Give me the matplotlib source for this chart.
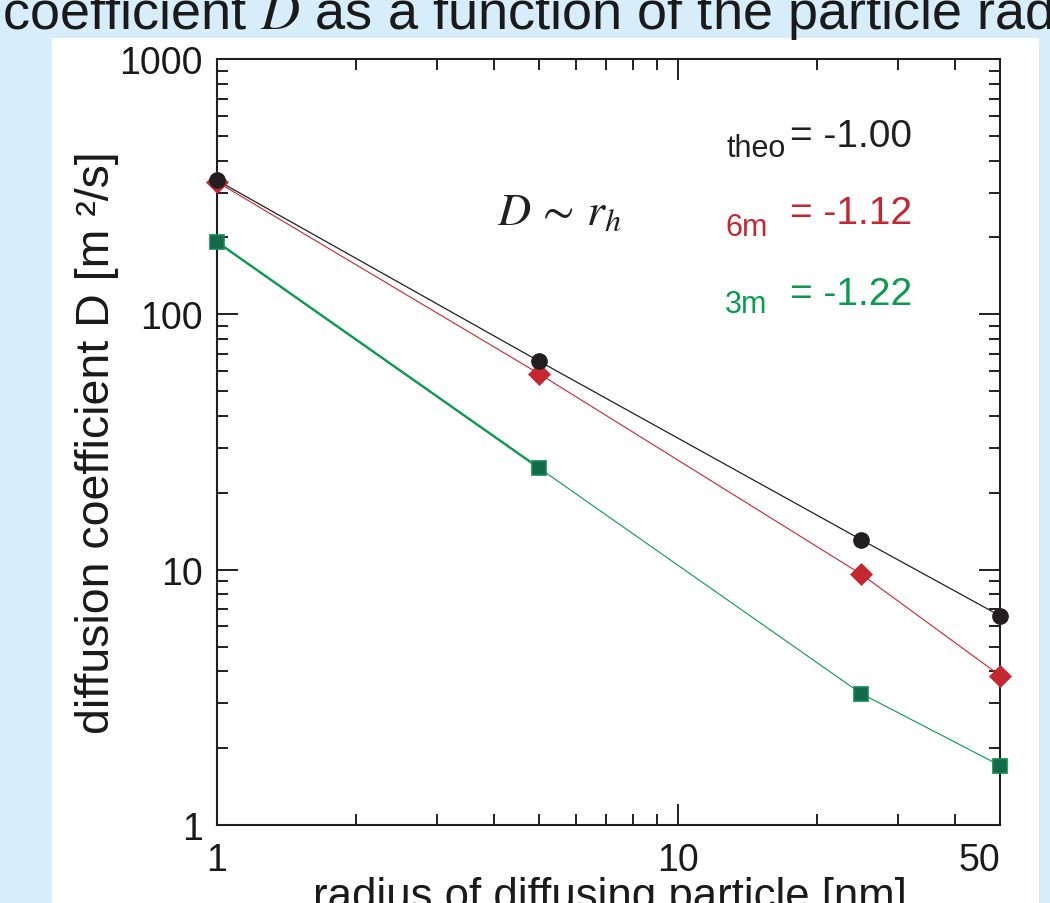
import matplotlib
matplotlib.use("Agg")
import matplotlib.pyplot as plt
from matplotlib.patches import Rectangle
from matplotlib.ticker import FixedLocator, NullFormatter, FixedFormatter

# Diffusion coefficient vs. hydrodynamic radius
radius_nm = [1, 5, 25, 50]
D_theo = [335, 65.5, 13.1, 6.6]
D_6m = [330, 58.5, 9.6, 3.85]
D_3m = [192, 25.0, 3.27, 1.71]

x_ticks = [1, 10, 50]
x_tick_labels = ["1", "10", "50"]
y_ticks = [1, 10, 100, 1000]
y_tick_labels = ["1", "10", "100", "1000"]

slope_subscripts = ["theo", "6m", "3m"]
slope_values = ["= -1.00", "= -1.12", "= -1.22"]

BLACK = "#231f20"
RED = "#c5262f"
GREEN = "#0a9a50"
GREEN_FILL = "#13694a"
GREEN_EDGE = "#108a52"
NAVY = "#2e3192"
SKY = "#d7eefa"

plt.rcParams["font.family"] = ["Liberation Sans", "DejaVu Sans"]
plt.rcParams["mathtext.fontset"] = "stix"

fig = plt.figure(figsize=(10.5, 9.04), dpi=100)
fig.patch.set_facecolor(SKY)
fig.add_artist(Rectangle((52 / 1050, 0), (1039 - 52) / 1050, 1 - 39 / 904,
                         transform=fig.transFigure, facecolor="white",
                         edgecolor="none", zorder=0))

fig.text(2 / 1050, 1 - 29 / 904,
         "coefficient $D$ as a function of the particle radius",
         fontsize=39, ha="left", va="baseline", color="#1a1a1a")

ax = fig.add_axes([217 / 1050, 1 - 826 / 904, 783 / 1050, 766 / 904])
ax.set_xscale("log")
ax.set_yscale("log")
ax.set_xlim(1, 50)
ax.set_ylim(1, 1000)

# connecting lines
ax.plot(radius_nm, D_theo, color=BLACK, lw=0.9, zorder=3, clip_on=False)
ax.plot(radius_nm, D_6m, color=RED, lw=0.8, zorder=3, clip_on=False)
ax.plot(radius_nm, D_3m, color=GREEN, lw=0.8, zorder=3, clip_on=False)
ax.plot(radius_nm[:2], D_3m[:2], color=GREEN, lw=1.7, zorder=3)

# markers
ax.plot(radius_nm, D_6m, ls="none", marker="D", ms=11, mfc=RED, mec=RED,
        mew=0.5, zorder=4, clip_on=False)
ax.plot(radius_nm, D_3m, ls="none", marker="s", ms=10.5, mfc=GREEN_FILL,
        mec=GREEN_EDGE, mew=1.2, zorder=4, clip_on=False)
ax.plot(radius_nm, D_theo, ls="none", marker="o", ms=11, mfc=BLACK,
        mec=BLACK, zorder=5, clip_on=False)

# ticks
ax.xaxis.set_major_locator(FixedLocator(x_ticks))
ax.xaxis.set_major_formatter(FixedFormatter(x_tick_labels))
x_minor = [m * 10 ** e for e in range(0, 2) for m in range(2, 10) if m * 10 ** e < 50]
ax.xaxis.set_minor_locator(FixedLocator(x_minor))
ax.xaxis.set_minor_formatter(NullFormatter())

ax.yaxis.set_major_locator(FixedLocator(y_ticks))
ax.yaxis.set_major_formatter(FixedFormatter(y_tick_labels))
y_minor = [m * 10 ** e for e in range(0, 3) for m in range(2, 10)]
ax.yaxis.set_minor_locator(FixedLocator(y_minor))
ax.yaxis.set_minor_formatter(NullFormatter())

ax.tick_params(which="both", direction="in", top=True, right=True,
               color=BLACK, width=1.4, labelsize=27, labelcolor="#1a1a1a")
ax.tick_params(which="major", length=15)
ax.tick_params(which="minor", length=8)
ax.tick_params(axis="y", pad=10)
ax.tick_params(axis="x", pad=12)

for lab in ax.get_xticklabels():
    if lab.get_text() == "50":
        lab.set_ha("right")

minor_ticks = ax.yaxis.get_minor_ticks(len(y_minor))
for loc, tick in zip(y_minor, minor_ticks):
    if loc in (400, 500, 600, 700, 800):
        tick.tick1line.set_color(NAVY)
    if loc == 6:
        tick.tick2line.set_color(NAVY)

for sp in ax.spines.values():
    sp.set_linewidth(1.5)
    sp.set_color(BLACK)

ax.set_ylabel("diffusion coefficient D [m ²/s]", fontsize=33.5, color="#1a1a1a")
ax.yaxis.set_label_coords(-0.125, 0.5)
ax.set_xlabel("radius of diffusing particle [nm]", fontsize=31.5, color="#1a1a1a")
ax.xaxis.set_label_coords(0.502, -0.066)

# scaling annotations
ax.text(0.3576, 0.80, r"$D\,\sim\,r_h$", transform=ax.transAxes, fontsize=33,
        ha="left", va="center", color=BLACK)

value_colors = [BLACK, RED, GREEN]
sub_y = [0.8734, 0.770, 0.6697]
val_y = [0.8868, 0.7859, 0.680]
sub_x = [0.6513, 0.649, 0.649]
for sub, val, c, sy, vy, sx in zip(slope_subscripts, slope_values,
                                   value_colors, sub_y, val_y, sub_x):
    ax.text(sx, sy, sub, transform=ax.transAxes, fontsize=22, color=c,
            ha="left", va="baseline")
    ax.text(0.7318, vy, val, transform=ax.transAxes, fontsize=28, color=c,
            ha="left", va="baseline")

fig.savefig("out.png", dpi=100, facecolor=fig.get_facecolor())
